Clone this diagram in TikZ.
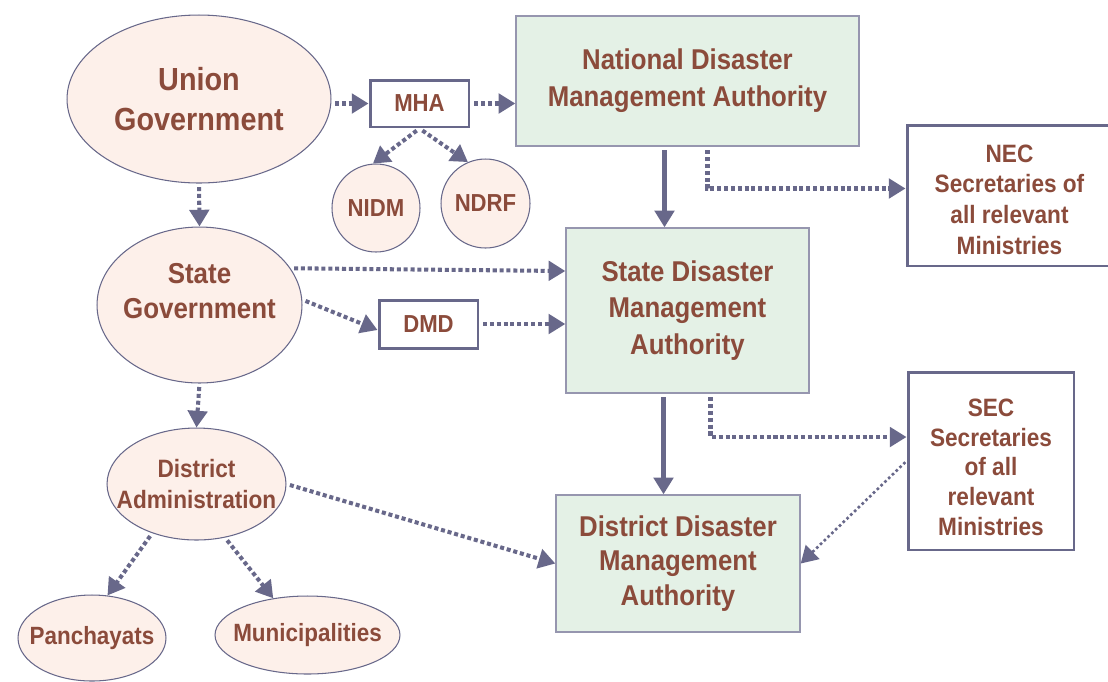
\documentclass[tikz,border=0pt]{standalone}
\usepackage{fontspec}
\setmainfont[FakeStretch=0.9]{Liberation Sans}
\usepackage{tikz}
\usetikzlibrary{shapes.geometric, arrows.meta, positioning}
\definecolor{ndmatext}{RGB}{139,75,59}
\definecolor{ndmaline}{RGB}{104,104,138}
\definecolor{ndmaframe}{RGB}{150,150,175}
\definecolor{govfill}{RGB}{253,240,234}
\definecolor{authfill}{RGB}{228,241,230}

\begin{document}
\begin{tikzpicture}[
    x=0.02cm, y=-0.02cm,
    gov/.style={ellipse, draw=ndmaline, line width=0.6pt, fill=govfill, inner xsep=-1cm, inner ysep=0pt, align=center, text=ndmatext},
    auth/.style={rectangle, draw=ndmaframe, line width=0.8pt, fill=authfill, inner sep=0pt, align=center, text=ndmatext},
    office/.style={rectangle, draw=ndmaline, line width=1.7pt, fill=white, inner sep=0pt, align=center, text=ndmatext},
    dotlink/.style={draw=ndmaline, line width=2.3pt, dash pattern=on 2.3pt off 1.6pt, shorten <=2pt, -{Triangle[length=9.5pt, width=11pt]}},
    finelink/.style={draw=ndmaline, line width=1.5pt, dash pattern=on 1.5pt off 1.5pt, shorten <=1pt, -{Triangle[length=9.5pt, width=11pt]}},
    mainlink/.style={draw=ndmaline, line width=2.3pt, shorten <=2pt, -{Triangle[length=9.5pt, width=11pt]}}
]
    \useasboundingbox (0,0) rectangle (1108,681);

    % Union level
    \node[gov, minimum width=5.28cm, minimum height=3.36cm, font=\bfseries\fontsize{18.2}{22.7}\selectfont] (ug) at (199,99) {Union\\Government};
    \node[office, minimum width=1.98cm, minimum height=0.94cm, font=\bfseries\fontsize{14}{17}\selectfont] (mha) at (419.5,103.5) {MHA};
    \node[gov, circle, inner sep=0pt, minimum size=1.76cm, font=\bfseries\fontsize{14}{17}\selectfont] (nidm) at (376,208) {NIDM};
    \node[gov, circle, inner sep=0pt, minimum size=1.78cm, font=\bfseries\fontsize{14}{17}\selectfont] (ndrf) at (485.5,203.5) {NDRF};
    \node[auth, minimum width=6.86cm, minimum height=2.6cm, font=\bfseries\fontsize{16.3}{21}\selectfont] (ndma) at (687.5,81) {National Disaster\\Management Authority};
    \node[office, minimum width=4.1cm, minimum height=2.82cm, font=\bfseries\fontsize{14.3}{17.6}\selectfont] (nec) at (1009.5,195.5) {\rule{0pt}{0.52cm}NEC\\Secretaries of\\all relevant\\Ministries};

    % State level
    \node[gov, minimum width=4.1cm, minimum height=3.12cm, text depth=0.56cm, font=\bfseries\fontsize{16.4}{19.8}\selectfont] (sg) at (199.5,305) {State\\Government};
    \node[office, minimum width=1.98cm, minimum height=0.96cm, font=\bfseries\fontsize{14}{17}\selectfont] (dmd) at (428.5,324) {DMD};
    \node[auth, minimum width=4.86cm, minimum height=3.3cm, font=\bfseries\fontsize{16.3}{20.7}\selectfont] (sdma) at (687.5,310.5) {State Disaster\\Management\\Authority};
    \node[office, minimum width=3.32cm, minimum height=3.56cm, font=\bfseries\fontsize{14.3}{17}\selectfont] (sec) at (991,461) {\rule{0pt}{0.6cm}SEC\\Secretaries\\of all\\relevant\\Ministries};

    % District level
    \node[gov, minimum width=3.58cm, minimum height=2.24cm, font=\bfseries\fontsize{14.3}{17.6}\selectfont] (da) at (196.5,484) {District\\Administration};
    \node[auth, minimum width=4.88cm, minimum height=2.74cm, font=\bfseries\fontsize{16.3}{19.5}\selectfont] (ddma) at (678,563.5) {District Disaster\\Management\\Authority};
    \node[gov, minimum width=2.96cm, minimum height=1.72cm, font=\bfseries\fontsize{14.2}{17}\selectfont] (pan) at (92,638) {Panchayats};
    \node[gov, minimum width=3.7cm, minimum height=1.56cm, font=\bfseries\fontsize{14.2}{17}\selectfont] (mun) at (307.5,635) {Municipalities};

    % Links
    \draw[dotlink] (ug.east |- mha.west) -- (mha.west);
    \draw[dotlink] (mha.east) -- (mha.east -| ndma.west);
    \draw[dotlink] (mha.south) -- (nidm.94);
    \draw[dotlink] (mha.south) -- (ndrf.113);
    \draw[dotlink] (ug.south) -- (sg.north);
    \draw[mainlink] ([xshift=-0.46cm]ndma.south) -- ([xshift=-0.46cm]sdma.north);
    \draw[dotlink] ([xshift=0.4cm]ndma.south) |- ([yshift=0.14cm]nec.west);
    \draw[dotlink] (sg.22) -- ([yshift=0.79cm]sdma.west);
    \draw[dotlink] (sg.3) -- ([yshift=-0.12cm]dmd.west);
    \draw[dotlink] (dmd.east) -- (dmd.east -| sdma.west);
    \draw[dotlink] (sg.south) -- (da.north);
    \draw[mainlink] ([xshift=-0.48cm]sdma.south) -- ([xshift=-0.48cm]sdma.south |- ddma.north);
    \draw[dotlink] ([xshift=0.46cm]sdma.south) |- ([yshift=0.48cm]sec.west);
    \draw[finelink] (sec.west) -- (ddma.east);
    \draw[dotlink] (da.east) -- (ddma.west);
    \draw[dotlink] (da.228) -- (pan.70);
    \draw[dotlink] (da.-62) -- (mun.133);
\end{tikzpicture}
\end{document}
